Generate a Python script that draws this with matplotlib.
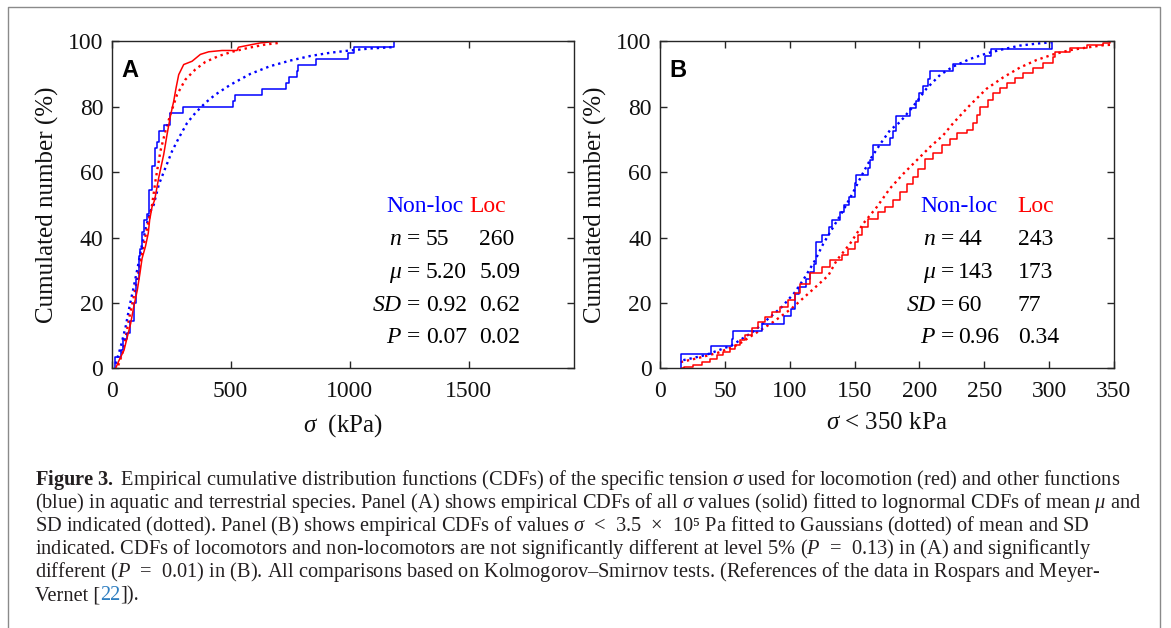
import numpy as np
import matplotlib.pyplot as plt

plt.rcParams['font.family'] = ['Liberation Serif', 'DejaVu Serif']
plt.rcParams['mathtext.fontset'] = 'custom'
plt.rcParams['mathtext.rm'] = 'Liberation Serif'
plt.rcParams['mathtext.it'] = 'Liberation Serif:italic'
plt.rcParams['mathtext.bf'] = 'Liberation Serif:bold'

# ---- panel A : all sigma values (kPa, %) ----
a_blue_x = [13, 13, 38, 46, 63, 77, 96, 103, 114, 121, 128, 135, 149, 156, 170, 181, 191, 198,
            219, 247, 299, 511, 520, 631, 732, 746, 778, 785, 858, 994, 1018, 1186]
a_blue_y = [0, 3.6, 5.5, 9.1, 10.9, 14.5, 20.0, 27.3, 34.5, 36.4, 41.8, 45.5, 47.3, 54.5, 61.8,
            67.3, 69.1, 72.7, 74.5, 78.2, 80.0, 81.8, 83.6, 85.5, 87.3, 89.1, 90.9, 92.7, 94.5,
            96.4, 98.2, 100]
a_red_x = [17, 31, 52, 66, 80, 93, 108, 119, 128, 142, 154, 160, 170, 181, 198, 219, 233, 247,
           261, 271, 282, 303, 338, 373, 408, 464, 527, 533, 554, 603, 624, 691]
a_red_y = [0, 2.4, 5.5, 9.6, 13.7, 18.8, 23.9, 29.0, 33.6, 37.2, 41.3, 45.4, 49.4, 51.5, 58.3,
           65.4, 71.5, 77.1, 81.7, 85.8, 89.8, 92.9, 93.9, 96.0, 96.8, 97.2, 97.2, 98.2, 98.5,
           99.2, 99.5, 100]
a_blue_fit_x = [17, 38, 59, 75, 93, 110, 126, 142, 159, 177, 198, 226, 254, 282, 317, 352, 394,
                436, 499, 582, 666, 750, 834, 918, 1001, 1085, 1180]
a_blue_fit_y = [1.4, 6.5, 12.7, 18.8, 24.9, 31.0, 37.2, 42.3, 47.4, 50.0, 56.1, 61.3, 66.4, 70.4,
                75.0, 78.1, 81.2, 83.7, 86.7, 90.0, 92.4, 94.1, 95.5, 96.5, 97.2, 97.8, 98.2]
a_red_fit_x = [28, 45, 62, 75, 93, 112, 128, 142, 156, 170, 184, 205, 226, 247, 275, 310, 352,
               394, 450, 506, 575, 645, 701]
a_red_fit_y = [0.9, 4.5, 10.6, 15.7, 21.8, 29.0, 35.1, 40.2, 45.3, 49.9, 57.2, 66.4, 72.5, 77.6,
               83.7, 88.3, 91.4, 93.7, 95.5, 96.8, 98.0, 99.0, 99.5]

# ---- panel B : sigma < 350 kPa ----
b_blue_x = [16, 16, 39, 55.5, 56.5, 78.5, 95.5, 101, 104, 107, 112.5, 116, 119, 120, 125, 130,
            133, 138.5, 141.5, 146, 150, 151.5, 160, 162, 164, 177, 179.5, 182, 193, 197, 200,
            203, 207, 208, 226, 250.5, 255, 302.5]
b_blue_y = [0, 4.5, 6.8, 9.1, 11.4, 13.6, 15.9, 18.2, 22.7, 25.0, 27.3, 29.5, 31.8, 38.6, 40.9,
            43.2, 45.5, 47.7, 50.0, 52.3, 56.8, 59.1, 61.4, 63.6, 68.2, 70.5, 72.7, 77.3, 79.5,
            81.8, 84.1, 86.4, 88.6, 90.9, 93.2, 95.5, 97.7, 100]
b_red_x = [17, 18.7, 25.7, 32.1, 38.5, 43.7, 48.8, 54, 57.8, 61.7, 65.5, 70.7, 75.8, 81, 86.1,
           92.5, 98.9, 104.1, 107.9, 115.6, 124.6, 131, 140, 145.2, 150.3, 152.9, 155.5, 160.6,
           168.3, 173.5, 179.9, 185, 190.2, 195.3, 199.2, 204.3, 210.7, 217.2, 223.6, 228.7,
           236.5, 241.6, 244.2, 246.7, 253.1, 257, 262.1, 267.3, 273.7, 280.1, 287.8, 295.5,
           303.2, 304.5, 316.1, 329, 341.8, 347]
b_red_y = [0, 0.3, 0.9, 1.9, 3.0, 4.0, 5.0, 6.0, 7.0, 8.7, 10.2, 12.2, 14.2, 15.8, 17.3, 18.8,
           20.9, 22.9, 25.9, 29.0, 31.0, 33.0, 34.6, 36.6, 38.6, 40.7, 43.2, 45.8, 47.8, 49.3,
           51.4, 53.9, 56.5, 58.5, 61.1, 64.1, 65.7, 68.2, 70.2, 71.9, 72.9, 74.9, 77.5, 80.0,
           82.1, 84.1, 85.6, 87.2, 88.7, 90.2, 91.7, 93.3, 95.3, 96.8, 97.9, 98.9, 99.4, 100]
b_blue_fit_x = [18, 27, 34.7, 45, 55.3, 65.5, 73.2, 83.5, 93.8, 104.1, 111.8, 119.5, 125.9, 133.6,
                141.3, 149, 155.5, 163.2, 170.9, 177.3, 185, 195, 205.6, 215.9, 226.1, 239,
                251.8, 264.7, 277.6, 290.4, 302]
b_blue_fit_y = [2.5, 3.3, 4.0, 5.5, 7.0, 9.6, 11.6, 15.2, 18.7, 23.3, 27.9, 33.0, 38.1, 43.2,
                48.3, 53.9, 59.0, 64.6, 69.2, 72.8, 75.3, 80.0, 85.6, 89.7, 92.3, 94.6, 96.3,
                97.6, 98.7, 99.3, 99.7]
b_red_fit_x = [16, 30, 45, 60, 73.2, 87.4, 101.5, 115.6, 129.8, 136.2, 146.5, 156.8, 167.1,
               177.3, 187.6, 197.9, 208.2, 218.4, 226.1, 239, 251.8, 264.7, 277.6, 290.4,
               303.2, 316.1, 329, 341.8, 350]
b_red_fit_y = [1.9, 3.2, 4.8, 7.2, 10.6, 14.2, 18.3, 23.3, 28.4, 33.0, 38.1, 44.3, 49.3, 55.0,
               59.5, 63.6, 67.7, 71.3, 75.0, 80.5, 85.5, 89.0, 92.0, 94.3, 96.0, 97.3, 98.1,
               98.8, 99.0]

# stats tables
row_labels = [r'$n$ =', r'$\mu$ =', r'$SD$ =', r'$P$ =']
a_nonloc = ['55', '5.20', '0.92', '0.07']
a_loc = ['260', '5.09', '0.62', '0.02']
b_nonloc = ['44', '143', '60', '0.96']
b_loc = ['243', '173', '77', '0.34']

caption = [
    r'$\mathbf{Figure\ 3.}$ Empirical cumulative distribution functions (CDFs) of the specific tension $\sigma$ used for locomotion (red) and other functions',
    r'(blue) in aquatic and terrestrial species. Panel (A) shows empirical CDFs of all $\sigma$ values (solid) fitted to lognormal CDFs of mean $\mu$ and',
    r'SD indicated (dotted). Panel (B) shows empirical CDFs of values $\sigma$  <  3.5  ×  10⁵ Pa fitted to Gaussians (dotted) of mean and SD',
    r'indicated. CDFs of locomotors and non-locomotors are not significantly different at level 5% ($P$  =  0.13) in (A) and significantly',
    r'different ($P$  =  0.01) in (B). All comparisons based on Kolmogorov–Smirnov tests. (References of the data in Rospars and Meyer-',
]

AX_COL = '#262626'
CAP_FS = 14.7


def style_axes(ax, xmax, xticks, label, ylab_x):
    ax.set_xlim(0, xmax)
    ax.set_ylim(0, 100)
    ax.set_xticks(xticks)
    ax.set_yticks(range(0, 101, 20))
    for s in ax.spines.values():
        s.set_color(AX_COL)
        s.set_linewidth(1.0)
    ax.tick_params(direction='in', length=5, width=1.0, color=AX_COL,
                   top=True, right=True, labelsize=17, labelcolor='#111111')
    ax.tick_params(axis='x', pad=9)
    ax.tick_params(axis='y', pad=6)
    ax.set_ylabel('Cumulated number (%)', fontsize=18, color='#111111')
    ax.yaxis.set_label_coords(ylab_x, 0.5)
    ax.set_xlabel(label, fontsize=18, color='#111111')
    ax.xaxis.set_label_coords(0.5, -0.135)


def stats(ax, xh1, xh2, xr, xc1, xc2, col1, col2):
    ax.text(xh1, 47.7, 'Non-loc', color='blue', fontsize=17)
    ax.text(xh2, 47.7, 'Loc', color='red', fontsize=17)
    for i in range(4):
        yb = 37.6 - 10 * i
        ax.text(xr, yb, row_labels[i], ha='right', fontsize=17)
        ax.text(xc1, yb, col1[i], fontsize=17)
        ax.text(xc2, yb, col2[i], fontsize=17)


fig = plt.figure(figsize=(11.71, 6.28), dpi=100)

axA = fig.add_axes([0.0953, 0.4135, 0.3953, 0.5207])
axA.plot(a_blue_fit_x, a_blue_fit_y, ':', color='blue', lw=1.7)
axA.plot(a_red_fit_x, a_red_fit_y, ':', color='red', lw=1.7)
axA.plot(a_blue_x, a_blue_y, color='blue', lw=1.1, drawstyle='steps-post')
axA.plot(a_red_x, a_red_y, color='red', lw=1.1)
style_axes(axA, 1945, [0, 500, 1000, 1500], r'$\sigma$  (kPa)', -0.114)
axA.text(0.021, 0.945, 'A', transform=axA.transAxes, fontsize=17, fontweight='bold',
         family='Liberation Sans', va='top')
stats(axA, 1153, 1502, 1300, 1320, 1545, a_nonloc, a_loc)

axB = fig.add_axes([0.5636, 0.4135, 0.3877, 0.5207])
axB.plot(b_blue_fit_x, b_blue_fit_y, ':', color='blue', lw=1.7)
axB.plot(b_red_fit_x, b_red_fit_y, ':', color='red', lw=1.7)
axB.plot(b_blue_x, b_blue_y, color='blue', lw=1.1, drawstyle='steps-post')
axB.plot(b_red_x, b_red_y, color='red', lw=1.1, drawstyle='steps-post')
style_axes(axB, 350, range(0, 351, 50), r'$\sigma$ < 350 kPa', -0.117)
axB.text(0.021, 0.945, 'B', transform=axB.transAxes, fontsize=17, fontweight='bold',
         family='Liberation Sans', va='top')
stats(axB, 200.7, 275.8, 227, 230, 276, b_nonloc, b_loc)

# frame around figure + caption
W, H = 1171.0, 628.0
fig.add_artist(plt.Line2D([8 / W, 8 / W, 1160 / W, 1160 / W], [-0.01, 1 - 7 / H, 1 - 7 / H, -0.01],
                          transform=fig.transFigure, color='#8a8a8a', lw=1.0))

cap_x = 35 / W
cap_col = '#231f20'
for i, line in enumerate(caption):
    fig.text(cap_x, 1 - (485 + 23 * i) / H, line, fontsize=CAP_FS, color=cap_col, va='baseline')

r = fig.canvas.get_renderer()
y6 = 1 - (485 + 23 * 5) / H
t1 = fig.text(cap_x, y6, 'Vernet [', fontsize=CAP_FS, color=cap_col, va='baseline')
x1 = t1.get_window_extent(r).x1 / fig.bbox.width
t2 = fig.text(x1, y6, '22', fontsize=CAP_FS, color='#2f7fc1', va='baseline')
x2 = t2.get_window_extent(r).x1 / fig.bbox.width
fig.text(x2, y6, ']).', fontsize=CAP_FS, color=cap_col, va='baseline')

fig.savefig('out.png', dpi=100)
